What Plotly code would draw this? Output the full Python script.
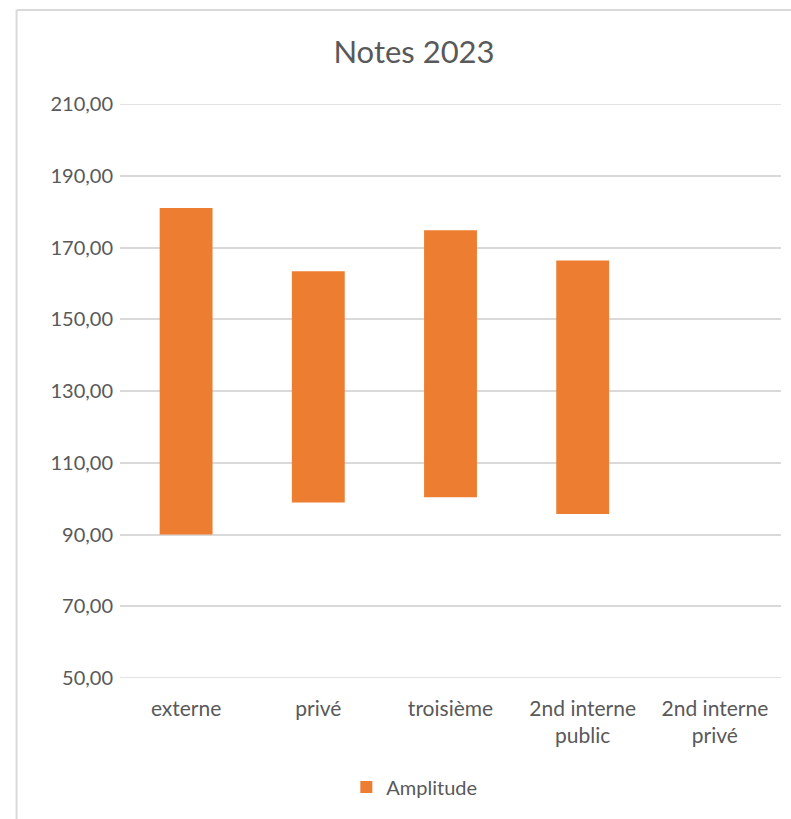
import plotly.graph_objects as go

# Categories and score ranges (min / max) for each track
categories = ["externe", "privé", "troisième", "2nd interne<br>public", "2nd interne<br>privé"]
note_min = [90.0, 98.9, 100.4, 95.7, None]
note_max = [181.0, 163.4, 174.8, 166.4, None]
amplitude = [None if lo is None else hi - lo for lo, hi in zip(note_min, note_max)]

y_ticks = [50, 70, 90, 110, 130, 150, 170, 190, 210]

W, H = 791, 819
L, R, T, B = 119.5, 10, 104, 141
PW, PH = W - L - R, H - T - B
TEXT = "#595959"
GRID = "#D9D9D9"
FONT = "Lato, 'Open Sans', sans-serif"


def px_x(px):
    return (px - L) / PW


def px_y(py):
    return (H - B - py) / PH


fig = go.Figure()
fig.add_trace(go.Bar(
    x=categories,
    y=amplitude,
    base=note_min,
    name="Amplitude",
    marker=dict(color="#ED7D31", line=dict(width=0)),
    width=0.4,
    showlegend=True,
))

# plotly skips gridlines that sit on the plot edges, so the first and last
# ones are drawn as lines in data coordinates
edge_grid = [
    dict(type="line", xref="paper", yref="y", x0=0, x1=1, y0=v, y1=v,
         layer="below", line=dict(color=GRID, width=1.5))
    for v in (y_ticks[0], y_ticks[-1])
]

fig.update_layout(
    width=W, height=H,
    margin=dict(l=L, r=R, t=T, b=B, autoexpand=False),
    paper_bgcolor="white",
    plot_bgcolor="white",
    separators=", ",
    font=dict(family=FONT, color=TEXT, size=20),
    title=dict(
        text="Notes 2023",
        x=414 / W, xref="container", xanchor="center",
        y=1 - 52 / H, yref="container", yanchor="middle",
        font=dict(size=31, color=TEXT, family=FONT),
    ),
    xaxis=dict(
        showgrid=False, showline=False, zeroline=False,
        ticks="", tickfont=dict(size=21, color=TEXT),
        ticklabelstandoff=16,
    ),
    yaxis=dict(
        range=[y_ticks[0], y_ticks[-1]], tickvals=y_ticks, tickformat=".2f",
        showgrid=True, gridcolor=GRID, gridwidth=1.5,
        showline=False, zeroline=False, ticks="",
        tickfont=dict(size=20, color=TEXT),
        ticklabelstandoff=6,
    ),
    legend=dict(
        orientation="h", x=px_x(346), xanchor="left",
        y=px_y(787), yanchor="middle",
        font=dict(size=20, color=TEXT),
        itemclick=False,
    ),
    shapes=edge_grid + [
        # chart frame: top and left edges
        dict(type="line", xref="paper", yref="paper",
             x0=px_x(16), x1=px_x(W), y0=px_y(10), y1=px_y(10),
             line=dict(color=GRID, width=2)),
        dict(type="line", xref="paper", yref="paper",
             x0=px_x(16), x1=px_x(16), y0=px_y(10), y1=px_y(H),
             line=dict(color=GRID, width=2)),
    ],
)

fig.write_html("out.html")
